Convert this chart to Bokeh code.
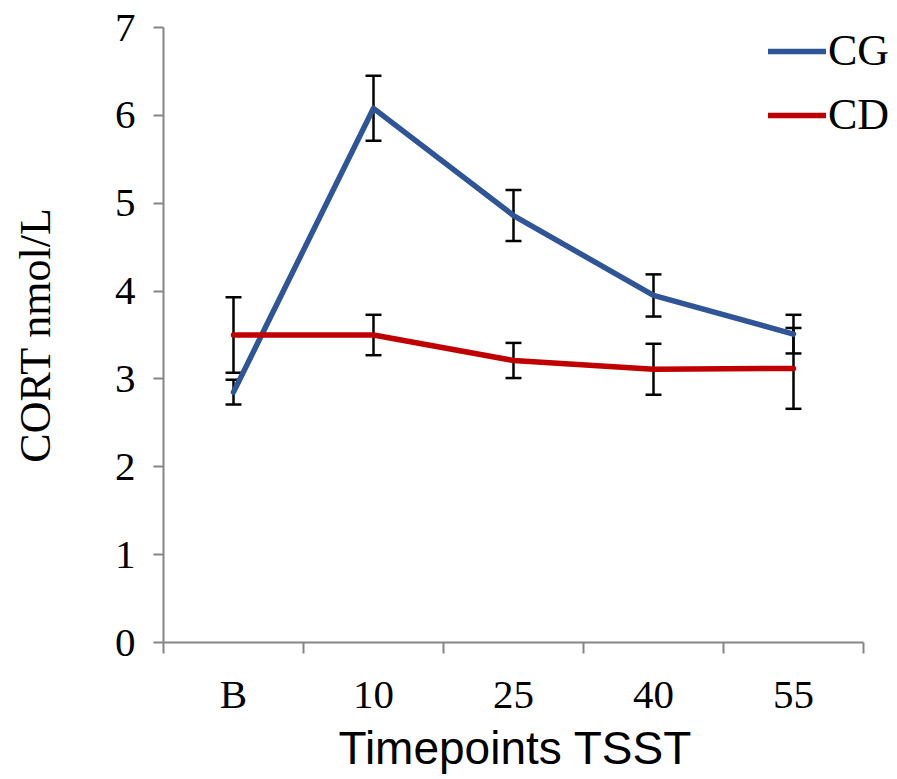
from bokeh.plotting import figure
from bokeh.models import FixedTicker, Range1d, Legend, LegendItem, ColumnDataSource, Title
from bokeh.embed import file_html
from bokeh.resources import INLINE

categories = ["B", "10", "25", "40", "55"]
cg_mean = [2.85, 6.08, 4.86, 3.95, 3.51]
cg_err = [0.14, 0.37, 0.29, 0.24, 0.22]
cd_mean = [3.50, 3.50, 3.21, 3.11, 3.12]
cd_err = [0.43, 0.23, 0.20, 0.29, 0.46]

x = list(range(1, len(categories) + 1))
cap = 0.057

BLUE = "#2F5597"
RED = "#C00000"
AXIS = "#868686"

# frame extends to the right edge so the legend is not clipped;
# the x axis line itself is bounded to the category span
x_end = 5.5 + 34 / 140
p = figure(width=897, height=779, output_backend="svg", toolbar_location=None,
           x_range=Range1d(0.5, x_end), y_range=Range1d(0, 7),
           min_border_left=163, min_border_right=0, min_border_top=27, min_border_bottom=137)
p.frame_width = 734
p.frame_height = 615
p.outline_line_color = None
p.xgrid.visible = False
p.ygrid.visible = False
p.background_fill_color = "white"
p.border_fill_color = "white"

# error bars (drawn under the lines)
for m, e in ((cg_mean, cg_err), (cd_mean, cd_err)):
    lo = [a - b for a, b in zip(m, e)]
    hi = [a + b for a, b in zip(m, e)]
    src = ColumnDataSource(dict(x=x, lo=lo, hi=hi,
                                xl=[v - cap for v in x], xr=[v + cap for v in x]))
    p.segment(x0="x", y0="lo", x1="x", y1="hi", source=src, line_color="black", line_width=2.5)
    p.segment(x0="xl", y0="lo", x1="xr", y1="lo", source=src, line_color="black", line_width=2.5)
    p.segment(x0="xl", y0="hi", x1="xr", y1="hi", source=src, line_color="black", line_width=2.5)

r_cg = p.line(x, cg_mean, line_color=BLUE, line_width=5.5, line_join="round", line_cap="round")
r_cd = p.line(x, cd_mean, line_color=RED, line_width=5.5, line_join="round", line_cap="round")

# axes
p.xaxis.bounds = (0.5, 5.5)
p.xaxis.ticker = FixedTicker(ticks=x, minor_ticks=[0.5, 1.5, 2.5, 3.5, 4.5, 5.5])
p.xaxis.major_label_overrides = {i: c for i, c in zip(x, categories)}
p.xaxis.major_tick_out = 0
p.xaxis.major_tick_in = 0
p.xaxis.minor_tick_out = 11
p.xaxis.minor_tick_in = 0
p.xaxis.minor_tick_line_color = AXIS
p.xaxis.minor_tick_line_width = 2
p.xaxis.axis_line_color = AXIS
p.xaxis.axis_line_width = 2
p.xaxis.major_label_text_font = "Liberation Serif"
p.xaxis.major_label_text_font_size = "41px"
p.xaxis.major_label_text_color = "black"
p.xaxis.major_label_standoff = 17

# x axis title, centred under the bounded axis line
p.add_layout(Title(text="Timepoints TSST", align="left", offset=175,
                   text_font="Liberation Sans", text_font_style="normal",
                   text_font_size="46px", text_color="black", standoff=0), "below")

p.yaxis.ticker = FixedTicker(ticks=[0, 1, 2, 3, 4, 5, 6, 7], minor_ticks=[])
p.yaxis.major_tick_out = 10
p.yaxis.major_tick_in = 0
p.yaxis.major_tick_line_color = AXIS
p.yaxis.major_tick_line_width = 2
p.yaxis.minor_tick_line_color = None
p.yaxis.axis_line_color = AXIS
p.yaxis.axis_line_width = 2
p.yaxis.major_label_text_font = "Liberation Serif"
p.yaxis.major_label_text_font_size = "41px"
p.yaxis.major_label_text_color = "black"
p.yaxis.major_label_standoff = 18
p.yaxis.axis_label = "CORT nmol/L"
p.yaxis.axis_label_text_font = "Liberation Serif"
p.yaxis.axis_label_text_font_style = "normal"
p.yaxis.axis_label_text_font_size = "44px"
p.yaxis.axis_label_text_color = "black"
p.yaxis.axis_label_standoff = 52

legend = Legend(items=[LegendItem(label="CG", renderers=[r_cg]),
                       LegendItem(label="CD", renderers=[r_cd])],
                location=(605, 502),
                label_text_font="Liberation Serif", label_text_font_size="44px",
                label_text_color="black", glyph_width=58, glyph_height=40,
                label_height=40, spacing=13, padding=0, margin=0,
                label_standoff=2, border_line_color=None, background_fill_alpha=0)
p.add_layout(legend, "center")

open("out.html", "w").write(file_html(p, INLINE))
